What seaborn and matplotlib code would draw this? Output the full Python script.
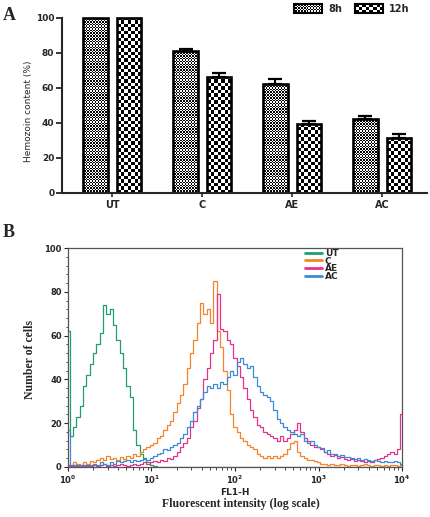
import numpy as np
import pandas as pd
import seaborn as sns
import matplotlib
matplotlib.use('Agg')
import matplotlib.pyplot as plt
from matplotlib.image import BboxImage
from matplotlib.patches import Patch
from matplotlib.lines import Line2D
from matplotlib.ticker import MultipleLocator, LogLocator, NullFormatter

# ---- panel A data: hemozoin content (%) ----
groups = ['UT', 'C', 'AE', 'AC']
times = ['8h', '12h']
hemo_8h = [100, 81, 62.5, 42]
hemo_12h = [100, 66.5, 39.5, 31.5]
err_8h = [0, 1.5, 2.5, 2]
err_12h = [0, 2, 1.5, 2]

# ---- panel B data: flow cytometry histograms (counts per log channel) ----
samples = ['UT', 'C', 'AE', 'AC']
sample_colors = ['#1f9e74', '#f4852c', '#e5338c', '#3d8ad6']
log_pos = np.linspace(0, 4, 101)  # channel grid, 10^0 .. 10^4
ut_counts = [62, 14, 18, 23, 28, 37, 42, 47, 52, 56,
             61, 74, 70, 72, 65, 58, 52, 45, 37, 32,
             17, 10, 6, 4, 2, 1, 0.5, 0, 0, 0] + [0] * 71
c_counts = [0.5, 1, 2, 1.5, 1, 2, 1.5, 2.5, 2, 3,
            4, 3, 5, 3.5, 4, 3, 4.5, 3.5, 5, 4,
            6, 5, 7, 8, 9, 10, 11, 13, 14, 17,
            19, 21, 25, 29, 33, 38, 45, 52, 58, 66,
            75, 70, 72, 66, 85, 62, 55, 44, 35, 24,
            18, 16, 13, 12, 10, 9, 8, 6, 5, 4,
            5, 4, 5, 4, 5, 6, 8, 11, 12, 7,
            5, 4, 3, 3, 2.5, 2, 1.5, 1.5, 1, 1.5,
            1, 1, 1.5, 1, 0.5, 1, 1, 0.5, 1, 1.5,
            1, 0.5, 1, 1, 0.5, 1, 0.5, 1, 1, 0.5,
            1]
ae_counts = [1, 0.5, 1, 0.5, 1, 0.5, 1, 0.5, 1, 0.5,
             1, 1.5, 0.5, 1, 0.5, 1, 1.5, 1, 0.5, 1,
             1.5, 1, 1.5, 2, 1.5, 2, 2.5, 2, 3, 2.5,
             4, 3.5, 5, 7, 9, 11, 13, 18, 21, 27,
             31, 40, 45, 52, 58, 79, 63, 62, 58, 56,
             50, 46, 41, 36, 31, 26, 23, 19, 18, 16,
             15, 14, 13, 12, 14, 12, 13, 15, 17, 20,
             16, 13, 12, 10, 9, 9, 8, 7, 6, 5,
             5.5, 4, 4.5, 3.5, 3, 3.5, 2.5, 3, 2.5, 2,
             2.5, 2, 3, 3.5, 4, 5, 6, 7, 6, 8,
             24]
ac_counts = [17, 1, 0.5, 1, 0.5, 1, 0.5, 1, 1.5, 1,
             2, 1.5, 1, 2, 1.5, 2.5, 2, 2.5, 3, 2,
             3, 2.5, 3, 3.5, 3, 4, 5, 6, 6.5, 8,
             7.5, 9, 10, 11, 13, 15, 18, 21, 25, 28,
             31, 34, 37, 36, 38, 36, 39, 38, 41, 44,
             42, 48, 50, 47, 45, 46, 41, 37, 34, 33,
             32, 30, 26, 22, 20, 18, 17, 16, 15, 14,
             15, 12, 11, 12, 10, 9, 8.5, 7, 7.5, 6,
             6, 5, 5.5, 4.5, 4.5, 4, 3.5, 4, 3, 3.5,
             3, 2.5, 3, 2.5, 2, 2.5, 2, 2, 2.5, 2,
             1.5]

sns.set_style('ticks')
plt.rcParams['font.family'] = ['DejaVu Sans']
SERIF = ['Liberation Serif', 'DejaVu Serif']

fig = plt.figure(figsize=(4.3, 5.17), dpi=100)
ax_a = fig.add_axes([0.144, 0.6267, 0.849, 0.3419])
ax_b = fig.add_axes([0.158, 0.097, 0.777, 0.423])


def checker(ny, nx):
    return np.indices((ny, nx)).sum(axis=0) % 2


def fill_checker(ax, patch, cell_px):
    # checkerboard texture clipped to the bar drawn by seaborn
    bb = patch.get_window_extent()
    nx = max(1, int(round(bb.width / cell_px)))
    ny = max(1, int(round(bb.height / cell_px)))
    x0, y0 = patch.get_x(), patch.get_y()
    im = ax.imshow(checker(ny, nx), extent=[x0, x0 + patch.get_width(), y0, y0 + patch.get_height()],
                   cmap='gray', interpolation='nearest', aspect='auto', origin='lower', zorder=1.5)
    im.set_clip_path(patch)
    patch.set_facecolor('none')
    patch.set_zorder(2)


# ================= Panel A =================
df_a = pd.DataFrame({
    'group': groups * 2,
    'time': ['8h'] * len(groups) + ['12h'] * len(groups),
    'value': hemo_8h + hemo_12h,
})
sns.barplot(data=df_a, x='group', y='value', hue='time', order=groups, hue_order=times,
            palette=['white', 'white'], width=0.74, gap=0.27, errorbar=None,
            edgecolor='black', linewidth=1.9, legend=False, ax=ax_a)

ax_a.set_xlim(-0.56, 3.5)
ax_a.set_ylim(0, 101)
sns.despine(ax=ax_a)
ax_a.spines['left'].set_bounds(0, 100)
ax_a.spines['left'].set_linewidth(1.5)
ax_a.spines['bottom'].set_linewidth(1.5)
ax_a.set_yticks([0, 20, 40, 60, 80, 100])
ax_a.tick_params(axis='y', length=4, width=1.3, labelsize=6.5, pad=1.5)
ax_a.tick_params(axis='x', length=3, width=1.2, labelsize=7, pad=2)
for lab in ax_a.get_xticklabels() + ax_a.get_yticklabels():
    lab.set_fontweight('bold')
ax_a.set_xlabel('')
ax_a.set_ylabel('Hemozoin content (%)', fontsize=6.5)
ax_a.yaxis.set_label_coords(-0.079, 0.46)

for cont, cell in zip(ax_a.containers, [1.4, 3.4]):
    for bar in cont:
        fill_checker(ax_a, bar, cell)
ax_a.set_xlim(-0.56, 3.5)
ax_a.set_ylim(0, 101)

for cont, errs in zip(ax_a.containers, [err_8h, err_12h]):
    xs = [b.get_x() + b.get_width() / 2 for b, e in zip(cont, errs) if e > 0]
    ys = [b.get_height() for b, e in zip(cont, errs) if e > 0]
    up = [e for e in errs if e > 0]
    ax_a.errorbar(xs, ys, yerr=[[0] * len(up), up], fmt='none', ecolor='black',
                  elinewidth=1.5, capsize=5, capthick=1.6, zorder=3)

leg_handles = [Patch(facecolor='none', edgecolor='black', linewidth=1.5) for _ in times]
leg_a = ax_a.legend(leg_handles, times, ncol=2, frameon=False, loc='upper left',
                    bbox_to_anchor=(294 / 430, 1 - 4 / 517), bbox_transform=fig.transFigure,
                    prop={'weight': 'bold', 'size': 7}, handlelength=2.9, handleheight=1.0,
                    handletextpad=0.6, columnspacing=1.3, borderpad=0, borderaxespad=0)

# ================= Panel B =================
df_b = pd.concat([
    pd.DataFrame({'FL1-H': 10 ** log_pos, 'count': vals, 'sample': name})
    for name, vals in zip(samples, [ut_counts, c_counts, ae_counts, ac_counts])
], ignore_index=True)
sns.lineplot(data=df_b, x='FL1-H', y='count', hue='sample', hue_order=samples,
             palette=sample_colors, estimator=None, sort=False, drawstyle='steps-mid',
             linewidth=0.9, legend=False, ax=ax_b)
ax_b.set_xscale('log')
ax_b.set_xlim(1, 1e4)
ax_b.set_ylim(0, 100)
ax_b.set_yticks([0, 20, 40, 60, 80, 100])
ax_b.yaxis.set_minor_locator(MultipleLocator(4))
ax_b.xaxis.set_major_locator(LogLocator(base=10))
ax_b.xaxis.set_minor_locator(LogLocator(base=10, subs=np.arange(2, 10)))
ax_b.xaxis.set_minor_formatter(NullFormatter())
for sp in ax_b.spines.values():
    sp.set_color('#555555')
    sp.set_linewidth(0.9)
ax_b.tick_params(which='major', length=3, width=0.8, labelsize=6, pad=1.5)
ax_b.tick_params(which='minor', length=1.8, width=0.6)
for lab in ax_b.get_xticklabels() + ax_b.get_yticklabels():
    lab.set_fontweight('bold')
ax_b.set_xlabel('FL1-H', fontsize=6.5, fontweight='bold', labelpad=2)
ax_b.set_ylabel('Number of cells', fontsize=8.5, fontweight='bold', family=SERIF)
ax_b.yaxis.set_label_coords(-0.096, 0.49)

line_handles = [Line2D([], [], color=c, linewidth=2) for c in sample_colors]
ax_b.legend(line_handles, samples, frameon=False, loc='upper left',
            bbox_to_anchor=(305 / 430, 1 - 249 / 517), bbox_transform=fig.transFigure,
            prop={'weight': 'bold', 'size': 6.5}, handlelength=1.9, handletextpad=0.3,
            labelspacing=-0.15, borderpad=0, borderaxespad=0)

fig.text(241 / 430, 1 - 507 / 517, 'Fluorescent intensity (log scale)', ha='center', va='baseline',
         fontsize=8.5, fontweight='bold', family=SERIF)

fig.text(3 / 430, 1 - 20 / 517, 'A', fontsize=13, fontweight='bold', family=SERIF, va='baseline')
fig.text(3 / 430, 1 - 237 / 517, 'B', fontsize=13, fontweight='bold', family=SERIF, va='baseline')

# checker texture for the legend swatches of panel A
fig.canvas.draw()
for patch, cell in zip(leg_a.get_patches(), [1.4, 3.4]):
    bb = patch.get_window_extent()
    img = BboxImage(bb, cmap='gray', interpolation='nearest', origin='lower', zorder=-1)
    img.set_data(checker(max(1, int(round(bb.height / cell))), max(1, int(round(bb.width / cell)))))
    fig.add_artist(img)

fig.savefig('out.png', dpi=100)
